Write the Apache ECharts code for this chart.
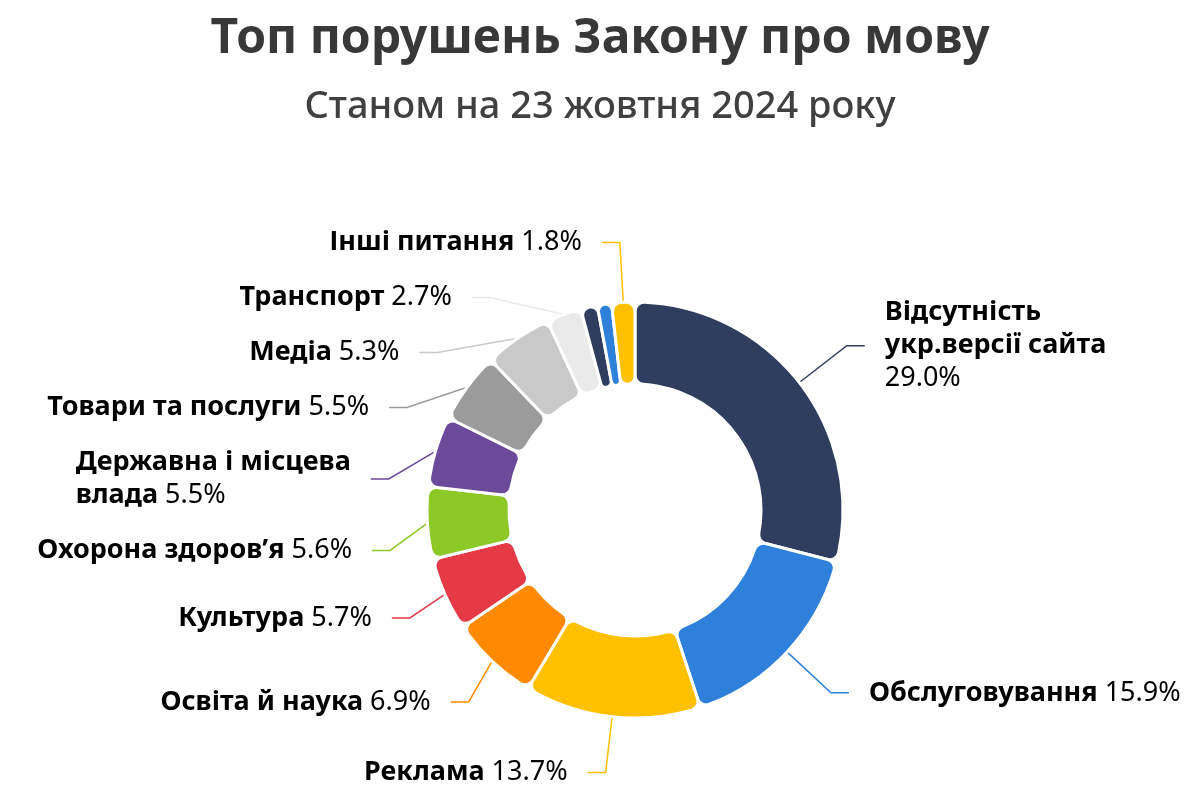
<!DOCTYPE html>
<html>
<head>
<meta charset="utf-8">
<script src="https://cdn.jsdelivr.net/npm/echarts@6/dist/echarts.min.js"></script>
<style>html,body{margin:0;padding:0;background:#fff}#c{width:1200px;height:800px}</style>
</head>
<body>
<div id="c"></div>
<script>
const titleText = 'Топ порушень Закону про мову';
const subtitleText = 'Станом на 23 жовтня 2024 року';
const categories = ['Відсутність\nукр.версії сайта', 'Обслуговування', 'Реклама', 'Освіта й наука', 'Культура', 'Охорона здоров’я', 'Державна і місцева\nвлада', 'Товари та послуги', 'Медіа', 'Транспорт', '', '', 'Інші питання'];
const values = [29.0, 15.9, 13.7, 6.9, 5.7, 5.6, 5.5, 5.5, 5.3, 2.7, 1.3, 1.1, 1.8];
const showLabel = [true, true, true, true, true, true, true, true, true, true, false, false, true];
const valueOnNewLine = [true, false, false, false, false, false, false, false, false, false, false, false, false];
const colors = ['#2F3E5F', '#2E80DA', '#FFC000', '#FF8A00', '#E63946', '#8CC826', '#6B4A9A', '#9B9B9B', '#C9C9C9', '#EAEAEA', '#2F3E5F', '#2E80DA', '#FFC000'];

const data = categories.map((name, i) => ({
  name: name,
  value: values[i],
  itemStyle: { color: colors[i] },
  label: { show: showLabel[i] },
  labelLine: { show: showLabel[i], lineStyle: { color: colors[i] } }
}));

const chart = echarts.init(document.getElementById('c'), null, { renderer: 'canvas' });
chart.setOption({
  animation: false,
  title: {
    text: titleText,
    subtext: subtitleText,
    left: 'center',
    top: 10,
    itemGap: 25,
    textStyle: { fontFamily: 'Noto Sans', fontWeight: 'bold', fontSize: 48, color: '#383838' },
    subtextStyle: { fontFamily: 'Noto Sans', fontWeight: 500, fontSize: 38, color: '#404040' }
  },
  series: [{
    type: 'pie',
    center: [635, 510],
    radius: [126, 208],
    startAngle: 90,
    clockwise: true,
    avoidLabelOverlap: true,
    itemStyle: { borderColor: '#ffffff', borderWidth: 3, borderRadius: 9 },
    label: {
      fontFamily: 'Noto Sans',
      fontSize: 27,
      color: '#000',
      distanceToLabelLine: 20,
      minMargin: 28,
      formatter: function (p) {
        const sep = valueOnNewLine[p.dataIndex] ? '\n' : ' ';
        return '{n|' + p.name + '}' + (sep === '\n' ? '\n{v|' : '{v| ') + p.value.toFixed(1) + '%}';
      },
      rich: {
        n: { fontFamily: 'Noto Sans', fontSize: 27, fontWeight: 'bold', color: '#000', align: 'left', lineHeight: 33 },
        v: { fontFamily: 'Noto Sans', fontSize: 27, color: '#000', align: 'left', lineHeight: 33 }
      }
    },
    labelLine: { length: 60, length2: 18, lineStyle: { width: 1.5 } },
    data: data
  }]
});
</script>
</body>
</html>
